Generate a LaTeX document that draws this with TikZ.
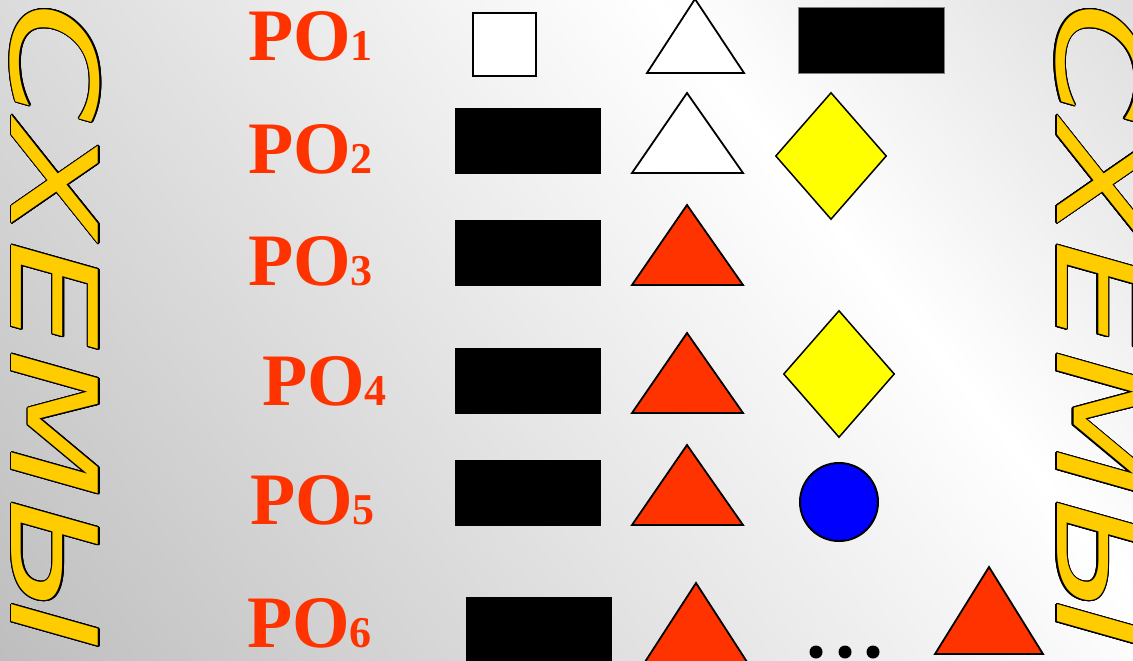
\documentclass[tikz,border=0pt]{standalone}
\usepackage{fontspec}
\usepackage[copies]{contour}
\usetikzlibrary{shapes.geometric,positioning}

\newfontfamily\lblfont{Liberation Serif}
\newfontfamily\wafont{DejaVu Sans}
\definecolor{pored}{HTML}{FF3300}
\definecolor{wayellow}{HTML}{FFCC00}
\definecolor{diayellow}{HTML}{FFFF00}
\definecolor{ballblue}{HTML}{0000FF}
\pgfdeclarehorizontalshading{bggrad}{100bp}{color(0bp)=(black!33); color(65bp)=(white); color(100bp)=(black!22)}
\contourlength{1.1pt}
\contournumber{24}
\newcommand\polabel[1]{PO{\fontsize{44}{44}\selectfont #1}}
\newcommand\wordart{\contour{black}{\scalebox{1.45}[1]{\textcolor{wayellow}{СХЕМЫ}}}}

\begin{document}
\begin{tikzpicture}[x=1pt,y=-1pt,
  lbl/.style={anchor=base west,inner sep=0,text=pored,
              font=\lblfont\bfseries\fontsize{74}{74}\selectfont},
  blk/.style={rectangle,fill=black,inner sep=0,minimum width=146pt,minimum height=66pt},
  tri/.style={draw=black,line width=1.8pt,line join=miter},
  dia/.style={diamond,draw=black,line width=1.5pt,fill=diayellow,inner sep=0,
              minimum width=111pt,minimum height=127pt},
  word/.style={rotate=-90,anchor=base west,inner sep=0,
               font=\wafont\itshape\fontsize{119}{119}\selectfont},
  dot/.style={circle,fill=black,inner sep=0,minimum size=13pt}
]
\clip (0,0) rectangle (1133,661);
\shade[shading=bggrad,shading angle=39] (0,0) rectangle (1133,661);

% side titles
\node[word] (wleft) at (12,2) {\wordart};
\node[word] (wright) at (1057,2) {\wordart};

% row labels
\node[lbl] (po1) at (248,61) {\polabel1};
\node[lbl] (po2) at (248,173) {\polabel2};
\node[lbl] (po3) at (248,285) {\polabel3};
\node[lbl] (po4) at (262,405) {\polabel4};
\node[lbl] (po5) at (250,524) {\polabel5};
\node[lbl] (po6) at (247,647) {\polabel6};

% first column
\node[rectangle,draw=black,line width=2pt,fill=white,minimum size=63pt,inner sep=0] (sq1) at (504.5,45) {};
\node[blk] (r2) at (528,141) {};
\node[blk] (r3) at (528,253) {};
\node[blk] (r4) at (528,381) {};
\node[blk] (r5) at (528,493) {};
\node[blk] (r6) at (539,630) {};

% triangles
\draw[tri,fill=white] (647,73) -- (695,-1) -- (744,73) -- cycle;
\draw[tri,fill=white] (632,173) -- (687,93) -- (743,173) -- cycle;
\foreach \yb in {285,413,525}
  \draw[tri,fill=pored] (632,\yb) -- (687,{\yb-80}) -- (743,\yb) -- cycle;
\draw[tri,fill=pored] (643,665) -- (696,583) -- (749,665) -- cycle;
\draw[tri,fill=pored] (935,654) -- (989,567) -- (1043,654) -- cycle;

% third column
\node[blk,draw=gray,line width=0.8pt] (r1) at (871,40) {};
\node[dia] (d2) at (831,156) {};
\node[dia] (d4) at (839,374) {};
\node[circle,draw=black,line width=2pt,fill=ballblue,minimum size=78pt,inner sep=0] (c5) at (839,502) {};
\foreach \xd [count=\i] in {816,845,873}
  \node[dot] (dot\i) at (\xd,652) {};
\end{tikzpicture}
\end{document}
